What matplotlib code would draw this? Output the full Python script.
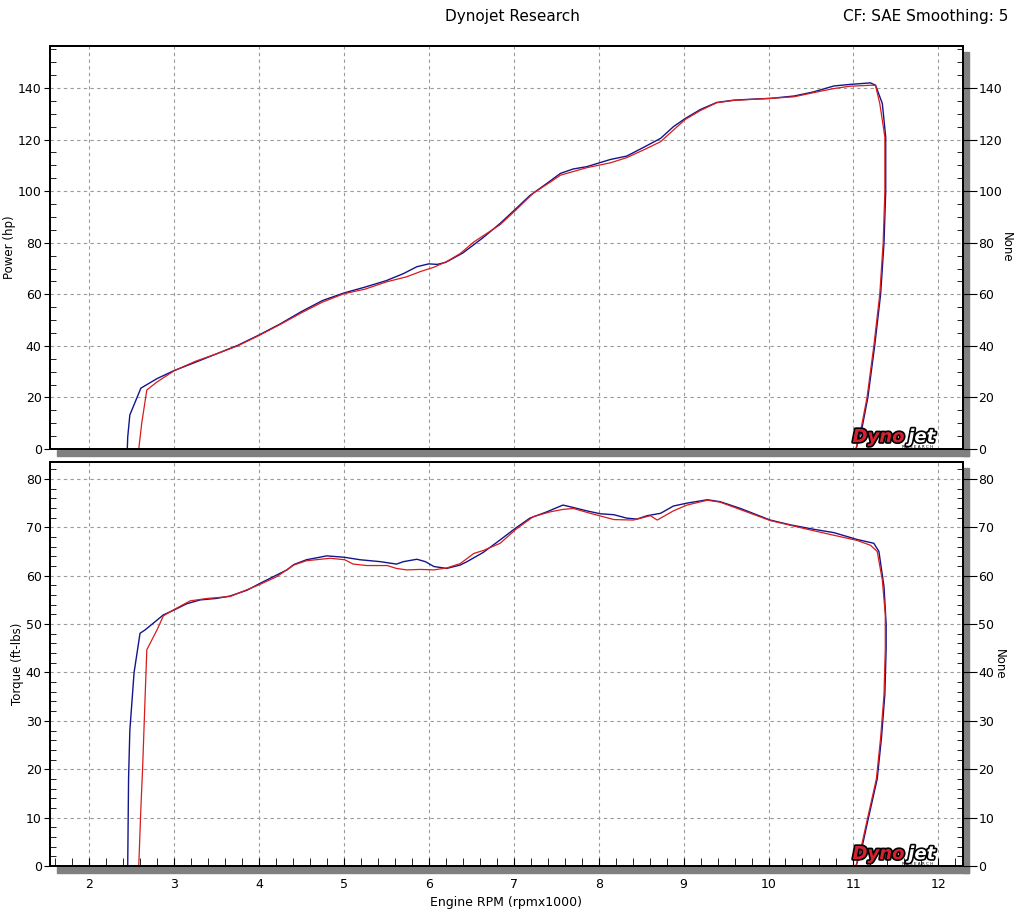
import numpy as np
import matplotlib.pyplot as plt
from matplotlib.patches import Rectangle
import matplotlib.patheffects as pe
from matplotlib.ticker import MultipleLocator

plt.rcParams['font.family'] = ['Liberation Sans Narrow', 'DejaVu Sans']

# run 1 (blue) - power
rpm_p1 = [2.45, 2.455, 2.48, 2.61, 2.8, 3.0, 3.25, 3.5, 3.75, 4.0, 4.25, 4.5, 4.75,
          5.0, 5.25, 5.5, 5.7, 5.86, 6.0, 6.1, 6.2, 6.4, 6.64, 6.84, 7.02, 7.19, 7.39,
          7.55, 7.70, 7.86, 8.01, 8.14, 8.33, 8.53, 8.73, 8.88, 9.02, 9.20, 9.39, 9.59,
          9.82, 10.03, 10.30, 10.53, 10.77, 10.96, 11.20, 11.26, 11.34, 11.38, 11.38,
          11.36, 11.32, 11.25, 11.17, 11.10, 11.03]
hp_1 = [0, 4.6, 13.2, 23.6, 27.3, 30.4, 33.6, 36.9, 40.2, 44.2, 48.5, 53.3, 57.6,
        60.5, 62.8, 65.3, 68.0, 70.7, 71.8, 71.6, 72.4, 76.0, 82.0, 87.5, 93.0, 98.3, 103.0,
        106.9, 108.6, 109.5, 111.0, 112.3, 113.6, 117.0, 120.5, 125.0, 128.2, 131.7, 134.4, 135.3,
        135.7, 136.0, 136.9, 138.5, 140.8, 141.4, 142.0, 141.1, 134.0, 121.0, 100.0,
        80.0, 60.0, 40.0, 20.0, 8.0, 0]

# run 2 (red) - power
rpm_p2 = [2.585, 2.62, 2.68, 2.80, 3.0, 3.25, 3.5, 3.75, 4.0, 4.25, 4.5, 4.75, 5.0,
          5.25, 5.5, 5.74, 5.9, 6.06, 6.21, 6.37, 6.53, 6.84, 7.02, 7.23, 7.43, 7.55,
          7.86, 8.14, 8.33, 8.53, 8.73, 8.88, 9.02, 9.20, 9.39, 9.59, 10.03, 10.30, 10.53,
          10.77, 10.96, 11.22, 11.26, 11.31, 11.37, 11.37, 11.35, 11.31, 11.24, 11.16,
          11.09, 11.03]
hp_2 = [0, 10.0, 22.9, 26.0, 30.3, 34.0, 36.9, 40.0, 44.0, 48.3, 52.8, 57.0, 60.2,
        62.0, 64.8, 66.8, 68.8, 70.5, 72.7, 75.8, 80.3, 87.0, 92.5, 99.2, 103.5, 106.2,
        109.1, 111.0, 113.0, 116.0, 119.2, 123.7, 127.8, 131.3, 134.3, 135.2, 136.0, 136.6, 138.2,
        139.8, 140.7, 141.1, 141.0, 134.0, 121.0, 100.0, 80.0, 60.0, 40.0, 20.0,
        8.0, 0]

# run 1 (blue) - torque
rpm_t1 = [2.455, 2.465, 2.48, 2.53, 2.60, 2.66, 2.875, 3.0, 3.15, 3.31, 3.50, 3.66,
          3.86, 4.0, 4.17, 4.33, 4.41, 4.56, 4.80, 5.01, 5.19, 5.43, 5.62, 5.70, 5.86,
          5.96, 6.06, 6.21, 6.37, 6.45, 6.64, 6.84, 7.02, 7.19, 7.39, 7.58, 7.70, 7.86,
          8.02, 8.18, 8.33, 8.45, 8.57, 8.73, 8.88, 9.04, 9.28, 9.43, 9.67, 10.02, 10.26,
          10.53, 10.77, 11.04, 11.24, 11.30, 11.36, 11.385, 11.385, 11.37, 11.33, 11.28,
          11.17, 11.10, 11.03]
tq_1 = [0, 18, 28, 40, 48.1, 48.8, 51.9, 52.9, 54.2, 55.0, 55.3, 55.8,
        57.0, 58.3, 59.8, 61.2, 62.3, 63.3, 64.1, 63.8, 63.3, 62.9, 62.4, 62.9, 63.4,
        62.9, 61.9, 61.5, 62.2, 62.9, 64.8, 67.4, 69.8, 71.9, 73.2, 74.6, 74.1, 73.4,
        72.8, 72.6, 71.9, 71.7, 72.4, 72.9, 74.4, 75.0, 75.7, 75.3, 73.9, 71.5, 70.5,
        69.6, 68.9, 67.5, 66.7, 65.0, 57.7, 50, 45, 35.5, 26.5, 18,
        9.4, 3.8, 0]

# run 2 (red) - torque
rpm_t2 = [2.585, 2.61, 2.63, 2.66, 2.68, 2.80, 2.875, 3.0, 3.19, 3.39, 3.66, 4.0,
          4.21, 4.41, 4.56, 4.84, 5.01, 5.11, 5.27, 5.51, 5.62, 5.74, 5.90, 6.06, 6.21,
          6.37, 6.53, 6.64, 6.84, 7.02, 7.23, 7.43, 7.58, 7.70, 7.90, 8.18, 8.41, 8.61,
          8.69, 8.88, 9.04, 9.28, 9.43, 10.02, 10.53, 11.04, 11.20, 11.28, 11.34, 11.375,
          11.375, 11.36, 11.32, 11.27, 11.16, 11.09, 11.03]
tq_2 = [0, 12, 20, 35, 44.7, 48.8, 51.7, 53.0, 54.8, 55.3, 55.7, 58.1,
        59.8, 62.2, 63.1, 63.6, 63.3, 62.4, 62.1, 62.1, 61.5, 61.2, 61.3, 61.2, 61.6,
        62.5, 64.6, 65.2, 66.7, 69.5, 72.2, 73.2, 73.7, 73.9, 72.9, 71.6, 71.5, 72.4,
        71.5, 73.4, 74.6, 75.6, 75.2, 71.4, 69.3, 67.3, 66.3, 65.0, 59.1, 52,
        45, 35.5, 26.5, 18, 9.4, 3.8, 0]

W, H = 1021, 915
fig = plt.figure(figsize=(W / 100, H / 100), dpi=100)


def box(l, t, r, b):
    return [l / W, 1 - b / H, (r - l) / W, (b - t) / H]


def shadow(l, t, r, b):
    fig.add_artist(Rectangle((57 / W, 1 - (b + 7) / H), (r + 6 - 57) / W, 6 / H,
                             transform=fig.transFigure, color='#808080', zorder=0))
    fig.add_artist(Rectangle((r / W, 1 - (b + 7) / H), 6 / W, (b + 7 - t - 6) / H,
                             transform=fig.transFigure, color='#808080', zorder=0))


def logo(ax):
    stroke = [pe.withStroke(linewidth=2.4, foreground='black')]
    ax.text(0.879, 0.017, 'Dyno', transform=ax.transAxes, color='#d42230',
            fontsize=13, fontweight='bold', style='italic', family='DejaVu Sans',
            path_effects=stroke, zorder=5)
    ax.text(0.940, 0.017, 'jet', transform=ax.transAxes, color='white',
            fontsize=13, fontweight='bold', style='italic', family='DejaVu Sans',
            path_effects=stroke, zorder=5)
    ax.text(0.95, 0.002, 'R E S E A R C H', transform=ax.transAxes, color='black',
            fontsize=3, ha='center', family='DejaVu Sans', zorder=5)


def style(ax, ymax, major, minor, ylabel, show_x):
    ax.set_xlim(1.54, 12.29)
    ax.set_ylim(0, ymax)
    ax.xaxis.set_major_locator(MultipleLocator(1))
    ax.yaxis.set_major_locator(MultipleLocator(major))
    ax.yaxis.set_minor_locator(MultipleLocator(minor))
    ax.grid(True, which='major', color='#9a9a9a', linestyle=(0, (3, 3)), linewidth=0.8)
    for s in ax.spines.values():
        s.set_linewidth(1.4)
    ax.tick_params(axis='y', which='major', direction='out', length=4, labelsize=9, pad=2)
    ax.tick_params(axis='y', which='minor', direction='in', length=4)
    if show_x:
        ax.xaxis.set_minor_locator(MultipleLocator(0.2))
        ax.tick_params(axis='x', which='both', direction='in', length=6, labelsize=9, pad=9)
        ax.set_xlabel('Engine RPM (rpmx1000)', fontsize=9, labelpad=3)
    else:
        ax.tick_params(axis='x', which='both', length=0, labelbottom=False)
    ax.set_ylabel(ylabel, fontsize=8.5, labelpad=1)

    rax = ax.twinx()
    rax.set_ylim(0, ymax)
    rax.yaxis.set_major_locator(MultipleLocator(major))
    rax.yaxis.set_minor_locator(MultipleLocator(minor))
    rax.tick_params(axis='y', which='major', direction='out', length=10, labelsize=9, pad=1)
    rax.tick_params(axis='y', which='minor', direction='in', length=4)
    rax.set_ylabel('None', fontsize=8.5, rotation=270, labelpad=8)
    for s in rax.spines.values():
        s.set_linewidth(1.4)


top = (50, 46, 963, 449)
bot = (50, 462, 963, 866)
shadow(*top)
shadow(*bot)

ax1 = fig.add_axes(box(*top))
ax2 = fig.add_axes(box(*bot))

ax1.plot(rpm_p1, hp_1, color='#14148c', linewidth=1.0, zorder=3)
ax1.plot(rpm_p2, hp_2, color='#d81c1c', linewidth=0.9, zorder=3)
ax2.plot(rpm_t1, tq_1, color='#14148c', linewidth=1.0, zorder=3)
ax2.plot(rpm_t2, tq_2, color='#d81c1c', linewidth=0.9, zorder=3)

style(ax1, 156.3, 20, 5, 'Power (hp)', False)
style(ax2, 83.5, 10, 2, 'Torque (ft-lbs)', True)
logo(ax1)
logo(ax2)

fig.text(512 / W, 1 - 17 / H, 'Dynojet Research', ha='center', va='center', fontsize=11)
fig.text(1008 / W, 1 - 17 / H, 'CF: SAE Smoothing: 5', ha='right', va='center', fontsize=11)

fig.savefig('out.png', dpi=100)
